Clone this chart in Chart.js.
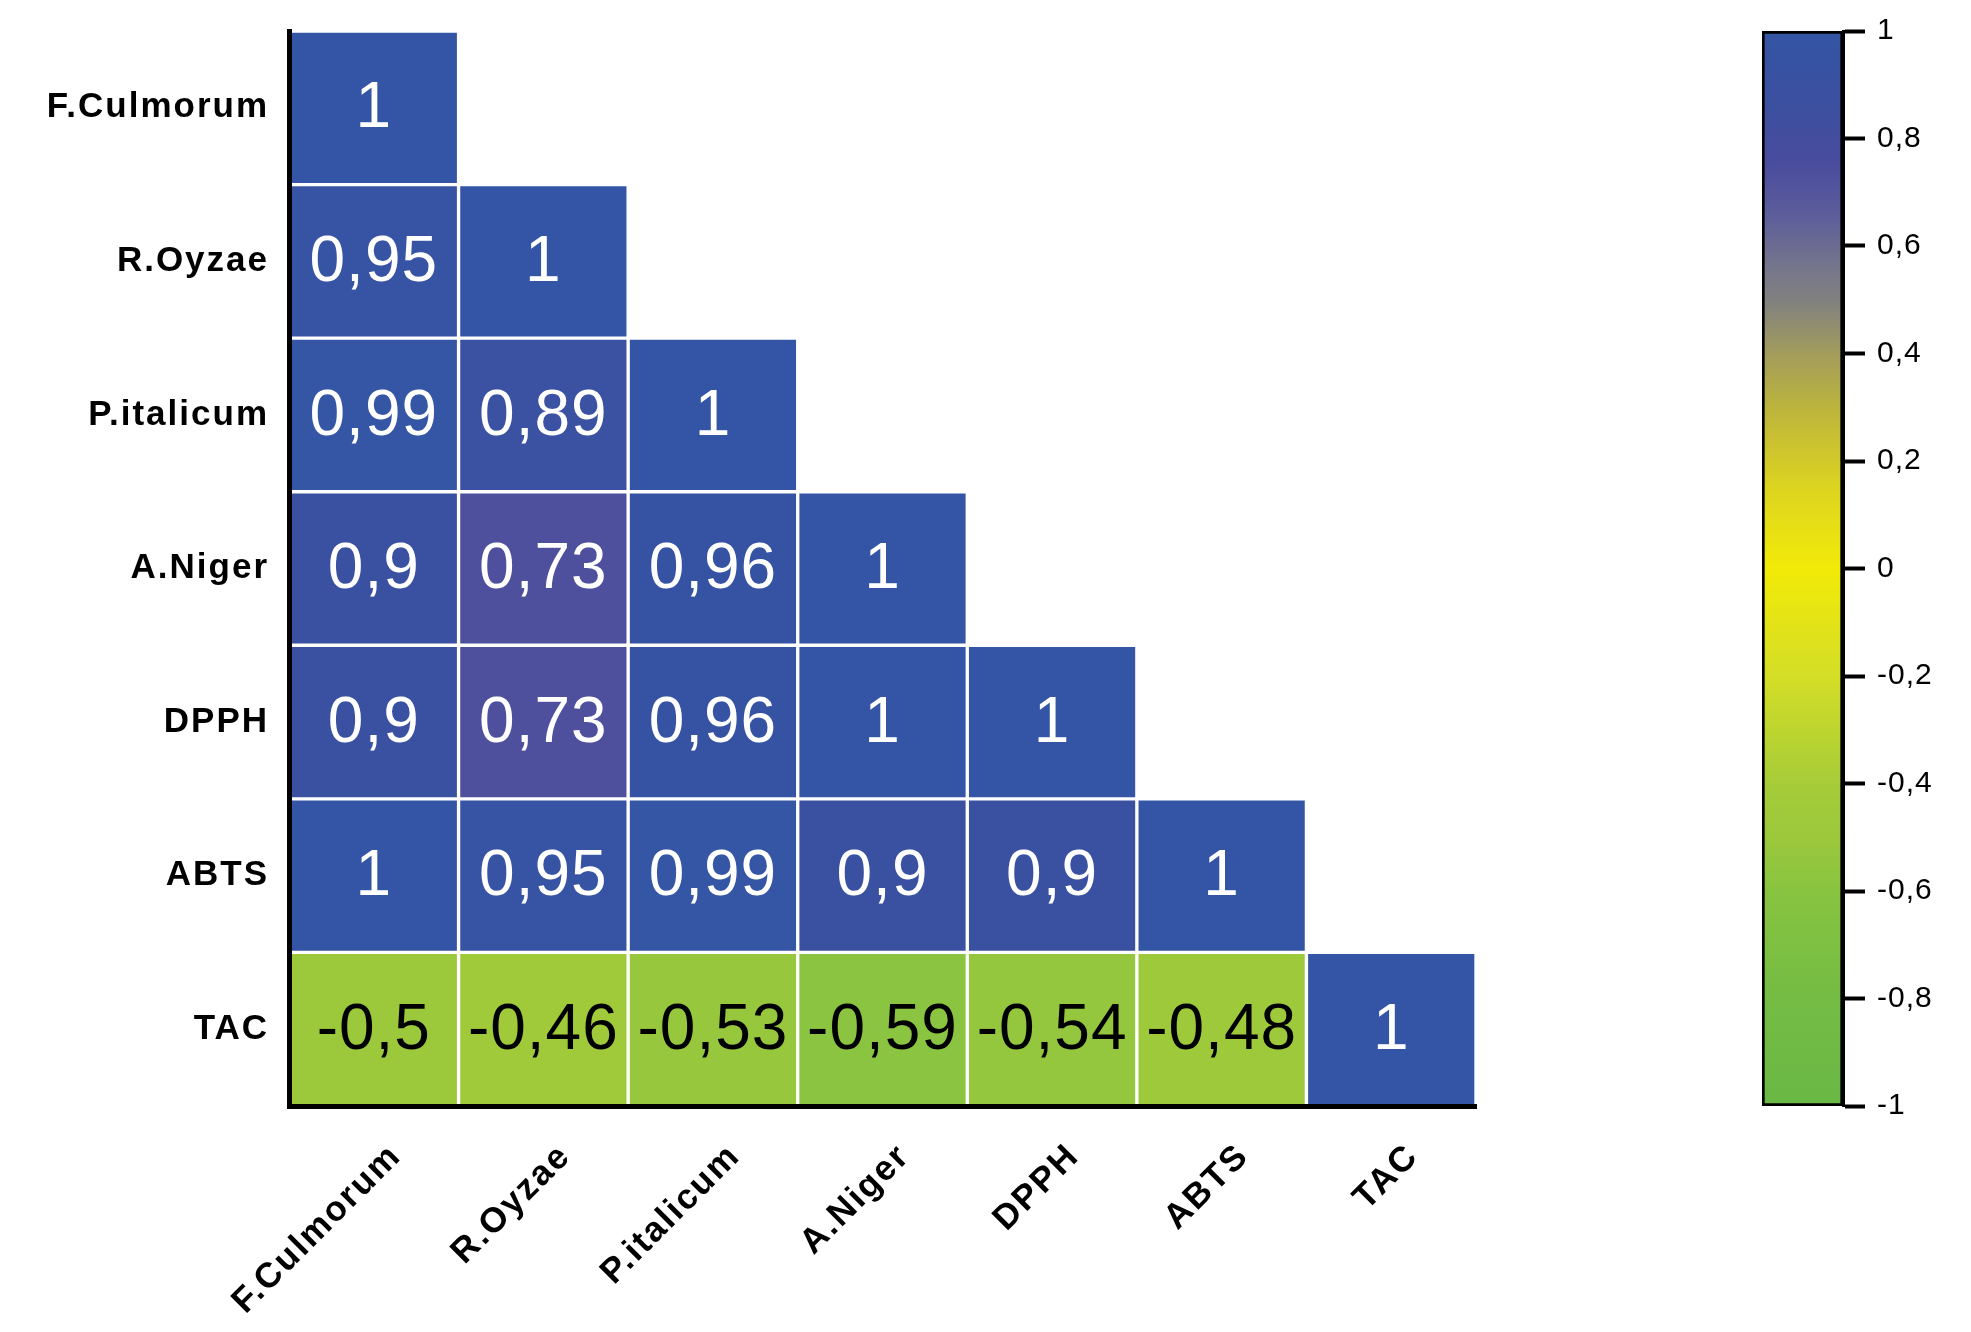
<!DOCTYPE html>
<html>
<head>
<meta charset="utf-8">
<script src="https://cdn.jsdelivr.net/npm/chart.js@4.4.1/dist/chart.umd.min.js"></script>
<style>
    body { margin: 0; background: #ffffff; }
    #contenedor { position: relative; width: 1971px; height: 1332px; }
    #grafico { position: absolute; left: 0; top: 0; }
    #barraColor { position: absolute; left: 1700px; top: 0; }
</style>
</head>
<body>
<div id="contenedor">
    <canvas id="grafico" width="1700" height="1332"></canvas>
    <canvas id="barraColor" width="271" height="1332"></canvas>
</div>
<script>
// Nombres de las variables (filas de arriba a abajo, columnas de izquierda a derecha)
const variables = ['F.Culmorum', 'R.Oyzae', 'P.italicum', 'A.Niger', 'DPPH', 'ABTS', 'TAC'];

// Coeficientes de correlacion (triangulo inferior), una fila por variable
const filaFCulmorum = [1];
const filaROyzae = [0.95, 1];
const filaPItalicum = [0.99, 0.89, 1];
const filaANiger = [0.9, 0.73, 0.96, 1];
const filaDPPH = [0.9, 0.73, 0.96, 1, 1];
const filaABTS = [1, 0.95, 0.99, 0.9, 0.9, 1];
const filaTAC = [-0.5, -0.46, -0.53, -0.59, -0.54, -0.48, 1];

const filas = [filaFCulmorum, filaROyzae, filaPItalicum, filaANiger, filaDPPH, filaABTS, filaTAC];

// Marcas de la escala de color
const marcasEscala = [-1, -0.8, -0.6, -0.4, -0.2, 0, 0.2, 0.4, 0.6, 0.8, 1];

// Paleta de la escala de color (valor -> color)
const paradasColor = [
    [-1, [106, 184, 69]],
    [-0.8, [116, 188, 68]],
    [-0.6, [136, 196, 64]],
    [-0.5, [156, 200, 60]],
    [-0.4, [166, 204, 56]],
    [-0.2, [212, 222, 38]],
    [0, [242, 234, 8]],
    [0.15, [220, 212, 32]],
    [0.3, [188, 180, 60]],
    [0.4, [162, 156, 92]],
    [0.5, [128, 128, 128]],
    [0.55, [120, 120, 138]],
    [0.65, [94, 95, 154]],
    [0.75, [74, 76, 158]],
    [0.85, [61, 79, 159]],
    [1, [52, 85, 165]]
];

// Funcion para obtener el color de un coeficiente
function colorDeValor(v) {
    for (let i = 1; i < paradasColor.length; i++) {
        const [v1, c1] = paradasColor[i];
        const [v0, c0] = paradasColor[i - 1];
        if (v <= v1) {
            const t = (v - v0) / (v1 - v0);
            const c = c0.map((x, k) => Math.round(x + (c1[k] - x) * t));
            return `rgb(${c[0]}, ${c[1]}, ${c[2]})`;
        }
    }
    return 'rgb(52, 85, 165)';
}

// Formato con coma decimal
function formatear(v) {
    return String(Math.round(v * 100) / 100).replace('.', ',');
}

const n = variables.length;

// Un conjunto de datos por fila: barras flotantes que ocupan una celda
const conjuntos = filas.map((fila, i) => ({
    label: variables[i],
    valores: fila,
    data: variables.map((_, j) => j < fila.length ? [n - 1 - i, n - i] : null),
    backgroundColor: variables.map((_, j) => j < fila.length ? colorDeValor(fila[j]) : 'transparent'),
    borderColor: '#ffffff',
    borderWidth: 2,
    borderSkipped: false,
    grouped: false,
    barPercentage: 1,
    categoryPercentage: 1
}));

// Plugin para escribir el valor dentro de cada celda
const etiquetasCeldas = {
    id: 'etiquetasCeldas',
    afterDatasetsDraw(chart) {
        const ctx = chart.ctx;
        ctx.save();
        ctx.letterSpacing = '1px';
        ctx.font = '64px "Liberation Sans", Arial, sans-serif';
        ctx.textAlign = 'center';
        ctx.textBaseline = 'middle';
        chart.data.datasets.forEach((ds, i) => {
            const meta = chart.getDatasetMeta(i);
            ds.valores.forEach((v, j) => {
                const el = meta.data[j];
                ctx.fillStyle = v < 0.3 ? '#000000' : '#ffffff';
                ctx.fillText(formatear(v), el.x, (el.y + el.base) / 2 + 2);
            });
        });
        ctx.restore();
    }
};

// Plugin para espaciar las letras de los textos de los ejes
function espaciado(px) {
    return {
        id: 'espaciado',
        beforeDraw(chart) { chart.ctx.letterSpacing = px; },
        afterDraw(chart) { chart.ctx.letterSpacing = '0px'; }
    };
}

const fuenteEtiquetas = { family: '"Liberation Sans", Arial, sans-serif', size: 35, weight: 'bold' };

new Chart(document.getElementById('grafico').getContext('2d'), {
    type: 'bar',
    data: { labels: variables, datasets: conjuntos },
    options: {
        responsive: false,
        animation: false,
        events: [],
        layout: { padding: { top: 31, right: 224, left: 0, bottom: 0 } },
        plugins: { legend: { display: false }, tooltip: { enabled: false } },
        scales: {
            x: {
                grid: { display: false, drawTicks: false },
                border: { display: true, color: '#000000', width: 5, z: 1 },
                ticks: {
                    color: '#000000',
                    font: fuenteEtiquetas,
                    minRotation: 45,
                    maxRotation: 45,
                    autoSkip: false,
                    padding: 30,
                    labelOffset: 22
                },
                afterFit(escala) {
                    escala.height = 226;
                    escala.paddingLeft = 0;
                    escala.paddingRight = 0;
                }
            },
            y: {
                min: 0,
                max: n,
                grid: { display: false, drawTicks: false },
                border: { display: true, color: '#000000', width: 5, z: 1 },
                afterBuildTicks(escala) {
                    escala.ticks = variables.map((_, i) => ({ value: n - 0.5 - i }));
                },
                ticks: {
                    color: '#000000',
                    font: fuenteEtiquetas,
                    padding: 20,
                    callback: (v) => variables[Math.round(n - 0.5 - v)]
                },
                afterFit(escala) {
                    escala.width = 289;
                    escala.paddingTop = 0;
                    escala.paddingBottom = 0;
                }
            }
        }
    },
    plugins: [etiquetasCeldas, espaciado('2px')]
});

// Barra de la escala de color
new Chart(document.getElementById('barraColor').getContext('2d'), {
    type: 'bar',
    data: {
        labels: [''],
        datasets: [{
            data: [[-1, 1]],
            backgroundColor(contexto) {
                const area = contexto.chart.chartArea;
                if (!area) return 'transparent';
                const g = contexto.chart.ctx.createLinearGradient(0, area.bottom, 0, area.top);
                paradasColor.forEach(([v, c]) => g.addColorStop((v + 1) / 2, `rgb(${c[0]}, ${c[1]}, ${c[2]})`));
                return g;
            },
            borderColor: '#000000',
            borderWidth: 3,
            borderSkipped: false,
            barPercentage: 1,
            categoryPercentage: 1
        }]
    },
    options: {
        responsive: false,
        animation: false,
        events: [],
        layout: { padding: { top: 31, left: 62, right: 0, bottom: 226 } },
        plugins: { legend: { display: false }, tooltip: { enabled: false } },
        scales: {
            x: { display: false },
            y: {
                position: 'right',
                min: -1,
                max: 1,
                afterBuildTicks(escala) {
                    escala.ticks = marcasEscala.map(v => ({ value: v }));
                },
                grid: { drawOnChartArea: false, tickLength: 22, tickColor: '#000000', tickWidth: 4 },
                border: { display: true, color: '#000000', width: 3, z: 1 },
                ticks: {
                    color: '#000000',
                    font: { family: '"Liberation Sans", Arial, sans-serif', size: 30 },
                    padding: 12,
                    callback: (v) => formatear(v)
                },
                afterFit(escala) {
                    escala.width = 128;
                    escala.paddingTop = 0;
                    escala.paddingBottom = 0;
                }
            }
        }
    },
    plugins: [espaciado('1px')]
});
</script>
</body>
</html>
